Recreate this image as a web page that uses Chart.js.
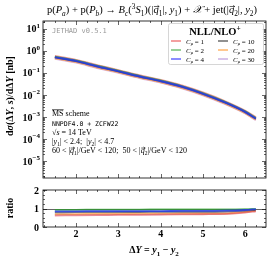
<!DOCTYPE html>
<html>
<head>
<meta charset="utf-8">
<script src="https://cdn.jsdelivr.net/npm/chart.js@4.4.1/dist/chart.umd.min.js"></script>
<style>
html, body { margin: 0; padding: 0; background: #fff; }
#wrap { position: relative; width: 273px; height: 258px; }
canvas { position: absolute; left: 0; }
</style>
</head>
<body>
<div id="wrap">
    <canvas id="xsec-chart" width="273" height="184" style="top:0;width:273px;height:184px"></canvas>
    <canvas id="ratio-chart" width="273" height="74" style="top:184px;width:273px;height:74px"></canvas>
</div>
<script>
/**
 *  Data
 */
var deltaY = [1.5, 2, 2.5, 3, 3.5, 4, 4.5, 5, 5.5, 6, 6.25];

var xsecC1  = [0.58, 0.39, 0.224, 0.134, 0.078, 0.048, 0.027, 0.0129, 0.0054, 0.0019, 0.00095];
var xsecC2  = [0.55, 0.37, 0.212, 0.127, 0.074, 0.0456, 0.0254, 0.0122, 0.0051, 0.0018, 0.0009];
var xsecC4  = [0.52, 0.35, 0.20, 0.12, 0.070, 0.043, 0.024, 0.0115, 0.0048, 0.0017, 0.00085];
var xsecC10 = [0.50, 0.336, 0.192, 0.115, 0.067, 0.0413, 0.023, 0.011, 0.0046, 0.00163, 0.00082];
var xsecC20 = [0.47, 0.315, 0.18, 0.108, 0.063, 0.0387, 0.0216, 0.0104, 0.0043, 0.00153, 0.00077];
var xsecC30 = [0.45, 0.30, 0.172, 0.103, 0.060, 0.037, 0.0206, 0.0099, 0.0041, 0.00146, 0.00073];

var ratioC1  = [0.62, 0.63, 0.64, 0.65, 0.66, 0.67, 0.68, 0.69, 0.70, 0.78, 0.85];
var ratioC2  = [0.93, 0.93, 0.94, 0.94, 0.94, 0.95, 0.95, 0.95, 0.95, 0.96, 0.98];
var ratioC4  = [0.85, 0.85, 0.86, 0.86, 0.86, 0.86, 0.87, 0.87, 0.88, 0.92, 0.97];
var ratioC10 = [0.79, 0.80, 0.80, 0.81, 0.81, 0.82, 0.82, 0.82, 0.83, 0.88, 0.93];
var ratioC20 = [0.70, 0.70, 0.71, 0.71, 0.72, 0.72, 0.73, 0.73, 0.74, 0.82, 0.88];
var ratioC30 = [0.66, 0.67, 0.67, 0.68, 0.68, 0.69, 0.70, 0.70, 0.72, 0.80, 0.86];

var muLabels = ['1', '2', '4', '10', '20', '30'];
var yTickExps = [-5, -4, -3, -2, -1, 0, 1];
var xTickLabels = [2, 3, 4, 5, 6];
var ratioTickLabels = [0, 1, 2];

var muColors = [
    'rgba(230,70,70,0.55)',
    'rgba(40,160,40,0.7)',
    'rgba(40,60,230,0.85)',
    'rgba(30,30,60,0.6)',
    'rgba(255,140,0,0.55)',
    'rgba(190,130,220,0.55)'
];
var legendColors = ['#f4a0a0', '#98d098', '#8c8cff', '#909090', '#ffc890', '#d8c4ea'];
var xsecWidths = [2.2, 2, 2.2, 1.2, 2.2, 2.2];
var drawOrder = [3, 2, 0, 1, 4, 5];

var SERIF = '"Liberation Serif", "DejaVu Serif", serif';

/**
 *  Tiny rich text helper: $ italic, _{..} sub, ^{..} sup, ~{..} overline, @{..} vector arrow
 */
function parseRich(str)
{
    var segs = [], cur = '', it = false, lvl = 0, ov = false, vec = false, stack = [];
    function push() {
        if (cur !== '') segs.push({t: cur, it: it, lvl: lvl, ov: ov, vec: vec});
        cur = '';
    }
    for (var i = 0; i < str.length; i++) {
        var c = str[i];
        if (c === '$') { push(); it = !it; }
        else if ('_^~@'.indexOf(c) >= 0 && str[i + 1] === '{') {
            push();
            stack.push(c);
            if (c === '_') lvl = -1;
            if (c === '^') lvl = 1;
            if (c === '~') ov = true;
            if (c === '@') vec = true;
            i++;
        }
        else if (c === '}') {
            push();
            var k = stack.pop();
            if (k === '_' || k === '^') lvl = 0;
            if (k === '~') ov = false;
            if (k === '@') vec = false;
        }
        else cur += c;
    }
    push();
    return segs;
}

function segFont(s, size, bold)
{
    var sz = s.lvl !== 0 ? size * 0.7 : size;
    return (s.it ? 'italic ' : '') + (bold ? 'bold ' : '') + sz + 'px ' + SERIF;
}

function drawRich(ctx, str, x, y, size, opts)
{
    opts = opts || {};
    var segs = parseRich(str);
    var w = 0;
    segs.forEach(function (s) {
        ctx.font = segFont(s, size, opts.bold);
        s.w = ctx.measureText(s.t).width;
        w += s.w;
    });
    var x0 = x;
    if (opts.align === 'center') x0 = x - w / 2;
    if (opts.align === 'right') x0 = x - w;
    ctx.save();
    ctx.fillStyle = opts.color || '#000';
    ctx.strokeStyle = opts.color || '#000';
    ctx.textBaseline = 'alphabetic';
    ctx.textAlign = 'left';
    segs.forEach(function (s) {
        ctx.font = segFont(s, size, opts.bold);
        var dy = s.lvl === -1 ? size * 0.28 : (s.lvl === 1 ? -size * 0.42 : 0);
        ctx.fillText(s.t, x0, y + dy);
        if (s.ov) {
            ctx.lineWidth = 0.7;
            tick(ctx, x0, y - size * 0.78, x0 + s.w, y - size * 0.78);
        }
        if (s.vec) {
            var ay = y - size * 0.62, ax1 = x0 + 0.5, ax2 = x0 + s.w + 0.5;
            ctx.lineWidth = 0.6;
            tick(ctx, ax1, ay, ax2, ay);
            tick(ctx, ax2 - 1.6, ay - 1.1, ax2, ay);
            tick(ctx, ax2 - 1.6, ay + 1.1, ax2, ay);
        }
        x0 += s.w;
    });
    ctx.restore();
}

function drawRotated(ctx, str, x, y, size, bold)
{
    ctx.save();
    ctx.translate(x, y);
    ctx.rotate(-Math.PI / 2);
    drawRich(ctx, str, 0, size * 0.35, size, {align: 'center', bold: bold});
    ctx.restore();
}

function tick(ctx, x1, y1, x2, y2)
{
    ctx.beginPath();
    ctx.moveTo(x1, y1);
    ctx.lineTo(x2, y2);
    ctx.stroke();
}

/**
 *  Frame with inward ticks on all four sides
 */
function drawFrame(ctx, a)
{
    ctx.save();
    ctx.strokeStyle = '#000';
    ctx.lineWidth = 0.8;
    ctx.strokeRect(a.left, a.top, a.right - a.left, a.bottom - a.top);
    ctx.restore();
}

function drawXTicks(ctx, a, xs)
{
    ctx.save();
    ctx.strokeStyle = '#000';
    ctx.lineWidth = 0.6;
    for (var k = 4; k <= 26; k++) {
        var v = k / 4;
        if (v < xs.min || v > xs.max) continue;
        var p = Math.round(xs.getPixelForValue(v)) + 0.5;
        var len = (k % 4 === 0) ? 4 : 2;
        tick(ctx, p, a.bottom, p, a.bottom - len);
        tick(ctx, p, a.top, p, a.top + len);
    }
    ctx.restore();
}

/**
 *  Cross section chart
 */
var xsecDeco = {
    id: 'xsecDeco',
    afterDraw: function (chart) {
        var ctx = chart.ctx, a = chart.chartArea;
        var xs = chart.scales.x, ys = chart.scales.y;
        drawFrame(ctx, a);
        drawXTicks(ctx, a, xs);

        ctx.save();
        ctx.strokeStyle = '#000';
        ctx.lineWidth = 0.6;
        for (var e = -6; e <= 1; e++) {
            for (var m = 1; m <= 9; m++) {
                var v = m * Math.pow(10, e);
                if (v < ys.min || v > ys.max) continue;
                var p = Math.round(ys.getPixelForValue(v)) + 0.5;
                var len = m === 1 ? 4 : 2;
                tick(ctx, a.left, p, a.left + len, p);
                tick(ctx, a.right, p, a.right - len, p);
            }
        }
        ctx.restore();

        yTickExps.forEach(function (e) {
            var p = ys.getPixelForValue(Math.pow(10, e));
            var lab = '10^{' + (e < 0 ? '\u2212' + (-e) : e) + '}';
            drawRich(ctx, lab, a.left - 3, p + 3.5, 10, {align: 'right', bold: true});
        });

        // title
        drawRich(ctx, 'p($P$_{$a$}) + p($P$_{$b$}) \u2192 $B$_{$c$}(^{3}$S$_{1})(|$@{q}$_{1}|, $y$_{1}) + $\uD835\uDCB3$ + jet(|$@{q}$_{2}|, $y$_{2})',
            152, 13, 10.5, {align: 'center', bold: false});

        // axis title
        drawRotated(ctx, 'd$\u03C3$(\u0394$Y$, $s$)/d\u0394$Y$ [nb]', 9, 96, 10, true);

        // version tag
        ctx.save();
        ctx.font = '7px "DejaVu Sans Mono", monospace';
        ctx.fillStyle = '#999';
        ctx.fillText('JETHAD v0.5.1', 52, 33);
        ctx.restore();

        // annotations
        drawRich(ctx, '~{MS} scheme', 52, 116, 8);
        ctx.save();
        ctx.font = '6.5px "DejaVu Sans Mono", monospace';
        ctx.fillStyle = '#000';
        ctx.fillText('NNPDF4.0 + ZCFW22', 52, 125.5);
        ctx.restore();
        drawRich(ctx, '\u221A$s$ = 14 TeV', 52, 135, 8);
        drawRich(ctx, '|$y$_{1}| < 2.4;  |$y$_{2}| < 4.7', 52, 144, 8);
        drawRich(ctx, '60 < |$@{q}$_{1}|/GeV < 120;  50 < |$@{q}$_{2}|/GeV < 120', 52, 153, 8);

        // legend
        ctx.save();
        ctx.fillStyle = 'rgba(255,255,255,0.9)';
        ctx.strokeStyle = '#ccc';
        ctx.lineWidth = 0.8;
        ctx.beginPath();
        ctx.roundRect(168.5, 23.5, 95, 41, 2);
        ctx.fill();
        ctx.stroke();
        ctx.restore();
        drawRich(ctx, 'NLL/NLO^{+}', 215, 35, 10.5, {align: 'center', bold: true});
        muLabels.forEach(function (lab, i) {
            var col = Math.floor(i / 3), row = i % 3;
            var lx = col === 0 ? 171 : 218;
            var ly = 41 + row * 9;
            ctx.save();
            ctx.strokeStyle = legendColors[i];
            ctx.lineWidth = 2;
            tick(ctx, lx, ly, lx + 10, ly);
            ctx.restore();
            drawRich(ctx, '$C$_{$\u03BC$} = ' + lab, lx + 15, ly + 2.5, 7);
        });
    }
};

var xsecSeries = [xsecC1, xsecC2, xsecC4, xsecC10, xsecC20, xsecC30];
var ratioSeries = [ratioC1, ratioC2, ratioC4, ratioC10, ratioC20, ratioC30];

function makeDatasets(series, widths)
{
    return series.map(function (vals, i) {
        return {
            label: 'C = ' + muLabels[i],
            data: vals.map(function (v, j) { return {x: deltaY[j], y: v}; }),
            borderColor: muColors[i],
            borderWidth: widths[i],
            pointRadius: 0,
            cubicInterpolationMode: 'monotone',
            fill: false,
            order: drawOrder[i]
        };
    });
}

var ctx = document.getElementById('xsec-chart').getContext('2d');
var myXsecChart = new Chart(ctx, {
    type: 'line',
    data: { datasets: makeDatasets(xsecSeries, xsecWidths) },
    options: {
        responsive: false,
        animation: false,
        layout: { padding: { left: 43, right: 7, top: 21, bottom: 6 } },
        plugins: { legend: { display: false }, tooltip: { enabled: false } },
        scales: {
            x: { type: 'linear', min: 1.22, max: 6.49, display: false },
            y: { type: 'logarithmic', min: 1.7e-6, max: 23, display: false }
        }
    },
    plugins: [xsecDeco]
});

/**
 *  Ratio chart
 */
var ratioDeco = {
    id: 'ratioDeco',
    beforeDatasetsDraw: function (chart) {
        var ctx = chart.ctx, a = chart.chartArea, ys = chart.scales.y;
        var p = Math.round(ys.getPixelForValue(1)) + 0.5;
        ctx.save();
        ctx.strokeStyle = '#666';
        ctx.lineWidth = 1;
        tick(ctx, a.left, p, a.right, p);
        ctx.restore();
    },
    afterDraw: function (chart) {
        var ctx = chart.ctx, a = chart.chartArea;
        var xs = chart.scales.x, ys = chart.scales.y;
        drawFrame(ctx, a);
        drawXTicks(ctx, a, xs);
        ctx.save();
        ctx.strokeStyle = '#000';
        ctx.lineWidth = 0.6;
        for (var k = 0; k <= 8; k++) {
            var p = Math.round(ys.getPixelForValue(k / 4)) + 0.5;
            var len = k % 4 === 0 ? 4 : 2;
            tick(ctx, a.left, p, a.left + len, p);
            tick(ctx, a.right, p, a.right - len, p);
        }
        ctx.restore();
        ratioTickLabels.forEach(function (v) {
            drawRich(ctx, String(v), a.left - 4, ys.getPixelForValue(v) + 3.5, 10, {align: 'right', bold: true});
        });
        xTickLabels.forEach(function (v) {
            drawRich(ctx, String(v), xs.getPixelForValue(v), 53, 10, {align: 'center', bold: true});
        });
        drawRotated(ctx, 'ratio', 9, 24, 10, true);
        drawRich(ctx, '\u0394$Y$ = $y$_{1} \u2212 $y$_{2}', 154, 69, 10, {align: 'center', bold: true});
    }
};

var ctx = document.getElementById('ratio-chart').getContext('2d');
var myRatioChart = new Chart(ctx, {
    type: 'line',
    data: { datasets: makeDatasets(ratioSeries, [1.8, 1.8, 1.8, 1.8, 1.8, 1.8]) },
    options: {
        responsive: false,
        animation: false,
        layout: { padding: { left: 43, right: 7, top: 6, bottom: 31 } },
        plugins: { legend: { display: false }, tooltip: { enabled: false } },
        scales: {
            x: { type: 'linear', min: 1.22, max: 6.49, display: false },
            y: { type: 'linear', min: 0, max: 2, display: false }
        }
    },
    plugins: [ratioDeco]
});
</script>
</body>
</html>
